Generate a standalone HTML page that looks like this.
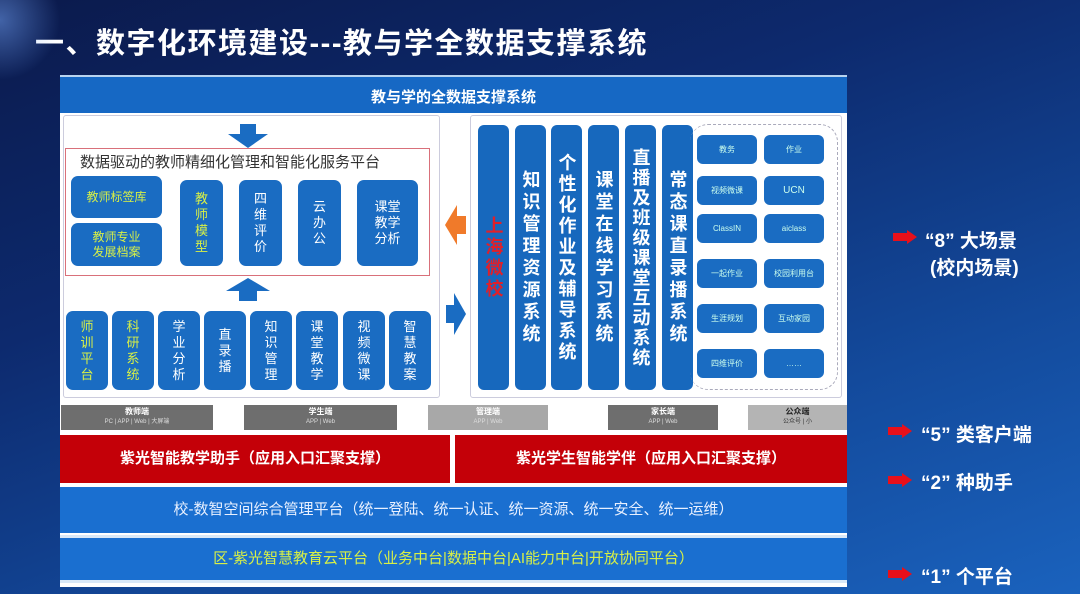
<!DOCTYPE html>
<html><head><meta charset="utf-8"><style>
*{margin:0;padding:0;box-sizing:border-box}
body{width:1080px;height:594px;overflow:hidden;position:relative;font-family:"Liberation Sans","Noto Sans CJK SC",sans-serif;
background:linear-gradient(160deg,#0b1a4c 0%,#0d2a6e 35%,#134a9c 70%,#1a62bd 100%);}
.a{position:absolute}
.t{color:#fff;font-weight:bold}
.bx{position:absolute;background:#1a6cc2;border-radius:7px;color:#fff;display:flex;align-items:center;justify-content:center;text-align:center;font-size:12px;line-height:15px}
.y{color:#d8f046}
.col{position:absolute;background:#1768bd;border-radius:6px;color:#fff;font-weight:bold;font-size:18px;line-height:22px;letter-spacing:3px;writing-mode:vertical-rl;display:flex;align-items:center;justify-content:center;top:125px;height:265px;width:31px}
.sm{position:absolute;background:#1a6cc2;border-radius:6px;color:#cfe;font-size:8px;display:flex;align-items:center;justify-content:center;width:60px;height:29px}
.gr{position:absolute;top:405px;height:25px;background:#6e6e6e;color:#fff;text-align:center;font-size:8px;line-height:10px;padding-top:2px;font-weight:bold}
.gr span{display:block;font-size:6px;font-weight:normal;color:#ddd}
.ar{position:absolute;width:0;height:0}
.ann{position:absolute;color:#fff;font-weight:bold;font-size:19px;left:925px;white-space:pre}
.ra{position:absolute;left:893px;width:24px;height:14px}
</style></head><body>
<div class="a t" style="left:35px;top:20px;font-size:29px;letter-spacing:1.5px">一、数字化环境建设---教与学全数据支撑系统</div>
<div class="a" style="left:0;top:0;width:60px;height:80px;background:radial-gradient(circle at 0 20px,rgba(120,170,255,.5),rgba(0,0,0,0) 60px)"></div>

<div class="a" style="left:60px;top:75px;width:787px;height:512px;background:#fff"></div>
<div class="a" style="left:60px;top:75px;width:787px;height:38px;background:#1668c4;border-top:2px solid #b8d4f0"></div>
<div class="a t" style="left:60px;top:86px;width:787px;text-align:center;font-size:15px">教与学的全数据支撑系统</div>

<div class="a" style="left:63px;top:115px;width:377px;height:283px;border:1px solid #ccd;border-radius:3px"></div>
<div class="a" style="left:470px;top:115px;width:372px;height:283px;border:1px solid #ccd;border-radius:3px"></div>

<div class="a" style="left:240px;top:124px;width:16px;height:10px;background:#1a6cc2"></div>
<div class="ar" style="left:228px;top:134px;border-left:20px solid transparent;border-right:20px solid transparent;border-top:14px solid #1a6cc2"></div>
<div class="a" style="left:65px;top:148px;width:365px;height:128px;border:1px solid #d9707a"></div>
<div class="a" style="left:80px;top:151px;font-size:15px;color:#333">数据驱动的教师精细化管理和智能化服务平台</div>
<div class="bx y" style="left:71px;top:176px;width:91px;height:42px">教师标签库</div>
<div class="bx y" style="left:71px;top:223px;width:91px;height:43px">教师专业<br>发展档案</div>
<div class="bx y" style="left:180px;top:180px;width:43px;height:86px;font-size:13px;line-height:16px">教<br>师<br>模<br>型</div>
<div class="bx" style="left:239px;top:180px;width:43px;height:86px;font-size:13px;line-height:16px">四<br>维<br>评<br>价</div>
<div class="bx" style="left:298px;top:180px;width:43px;height:86px;font-size:13px;line-height:16px">云<br>办<br>公</div>
<div class="bx" style="left:357px;top:180px;width:61px;height:86px;font-size:13px;line-height:16px">课堂<br>教学<br>分析</div>
<div class="ar" style="left:226px;top:278px;border-left:22px solid transparent;border-right:22px solid transparent;border-bottom:13px solid #1a6cc2"></div>
<div class="a" style="left:239px;top:291px;width:18px;height:10px;background:#1a6cc2"></div>
<div class="bx y" style="left:66px;top:311px;width:42px;height:79px;font-size:13px;line-height:16px">师<br>训<br>平<br>台</div>
<div class="bx y" style="left:112px;top:311px;width:42px;height:79px;font-size:13px;line-height:16px">科<br>研<br>系<br>统</div>
<div class="bx" style="left:158px;top:311px;width:42px;height:79px;font-size:13px;line-height:16px">学<br>业<br>分<br>析</div>
<div class="bx" style="left:204px;top:311px;width:42px;height:79px;font-size:13px;line-height:16px">直<br>录<br>播</div>
<div class="bx" style="left:250px;top:311px;width:42px;height:79px;font-size:13px;line-height:16px">知<br>识<br>管<br>理</div>
<div class="bx" style="left:296px;top:311px;width:42px;height:79px;font-size:13px;line-height:16px">课<br>堂<br>教<br>学</div>
<div class="bx" style="left:343px;top:311px;width:42px;height:79px;font-size:13px;line-height:16px">视<br>频<br>微<br>课</div>
<div class="bx" style="left:389px;top:311px;width:42px;height:79px;font-size:13px;line-height:16px">智<br>慧<br>教<br>案</div>

<div class="ar" style="left:445px;top:205px;border-top:20px solid transparent;border-bottom:20px solid transparent;border-right:12px solid #f07a2a"></div>
<div class="a" style="left:457px;top:216px;width:9px;height:18px;background:#f07a2a"></div>
<div class="a" style="left:446px;top:305px;width:8px;height:18px;background:#1a6cc2"></div>
<div class="ar" style="left:454px;top:293px;border-top:21px solid transparent;border-bottom:21px solid transparent;border-left:12px solid #1a6cc2"></div>

<div class="col" style="left:478px;color:#e0202a">上海微校</div>
<div class="col" style="left:515px;letter-spacing:4px">知识管理资源系统</div>
<div class="col" style="left:551px">个性化作业及辅导系统</div>
<div class="col" style="left:588px;letter-spacing:4px">课堂在线学习系统</div>
<div class="col" style="left:625px;letter-spacing:2px">直播及班级课堂互动系统</div>
<div class="col" style="left:662px;letter-spacing:4px">常态课直录播系统</div>
<div class="a" style="left:690px;top:124px;width:148px;height:266px;border:1px dashed #aab;border-radius:18px;border-left:none"></div>
<div class="sm" style="left:697px;top:135px">教务</div><div class="sm" style="left:764px;top:135px">作业</div>
<div class="sm" style="left:697px;top:176px">视频微课</div><div class="sm" style="left:764px;top:176px;font-size:10px">UCN</div>
<div class="sm" style="left:697px;top:214px">ClassIN</div><div class="sm" style="left:764px;top:214px">aiclass</div>
<div class="sm" style="left:697px;top:259px">一起作业</div><div class="sm" style="left:764px;top:259px">校园利用台</div>
<div class="sm" style="left:697px;top:304px">生涯规划</div><div class="sm" style="left:764px;top:304px">互动家园</div>
<div class="sm" style="left:697px;top:349px">四维评价</div><div class="sm" style="left:764px;top:349px">……</div>

<div class="gr" style="left:61px;width:152px">教师端<span>PC | APP | Web | 大屏端</span></div>
<div class="gr" style="left:244px;width:153px">学生端<span>APP | Web</span></div>
<div class="gr" style="left:428px;width:120px;background:#a8a8a8">管理端<span>APP | Web</span></div>
<div class="gr" style="left:608px;width:110px">家长端<span>APP | Web</span></div>
<div class="gr" style="left:748px;width:99px;background:#b4b4b4;color:#222">公众端<span style="color:#333">公众号 | 小</span></div>

<div class="a t" style="left:60px;top:435px;width:390px;height:48px;background:#c40008;font-size:15px;line-height:48px;text-align:center">紫光智能教学助手（应用入口汇聚支撑）</div>
<div class="a t" style="left:455px;top:435px;width:392px;height:48px;background:#c40008;font-size:15px;line-height:48px;text-align:center">紫光学生智能学伴（应用入口汇聚支撑）</div>
<div class="a" style="left:60px;top:487px;width:787px;height:46px;background:#1a6fd0;color:#e8f0ff;font-size:15px;line-height:46px;text-align:center">校-数智空间综合管理平台（统一登陆、统一认证、统一资源、统一安全、统一运维）</div>
<div class="a" style="left:60px;top:535px;width:787px;height:48px;background:#1a6fd0;border-top:3px solid #d8e8f8;border-bottom:3px solid #d8e8f8;color:#d8f046;font-size:15px;line-height:42px;text-align:center">区-紫光智慧教育云平台（业务中台|数据中台|AI能力中台|开放协同平台）</div>

<svg class="ra" style="top:230px" viewBox="0 0 24 14"><path d="M0 3h14V0l10 7-10 7v-3H0z" fill="#e8101a"/></svg>
<div class="ann" style="top:226px">“8” 大场景</div>
<div class="ann" style="top:253px;left:930px">(校内场景)</div>
<svg class="ra" style="top:424px;left:888px" viewBox="0 0 24 14"><path d="M0 3h14V0l10 7-10 7v-3H0z" fill="#e8101a"/></svg>
<div class="ann" style="top:420px;left:921px">“5” 类客户端</div>
<svg class="ra" style="top:473px;left:888px" viewBox="0 0 24 14"><path d="M0 3h14V0l10 7-10 7v-3H0z" fill="#e8101a"/></svg>
<div class="ann" style="top:468px;left:921px">“2” 种助手</div>
<svg class="ra" style="top:567px;left:888px" viewBox="0 0 24 14"><path d="M0 3h14V0l10 7-10 7v-3H0z" fill="#e8101a"/></svg>
<div class="ann" style="top:562px;left:921px">“1” 个平台</div>
</body></html>
